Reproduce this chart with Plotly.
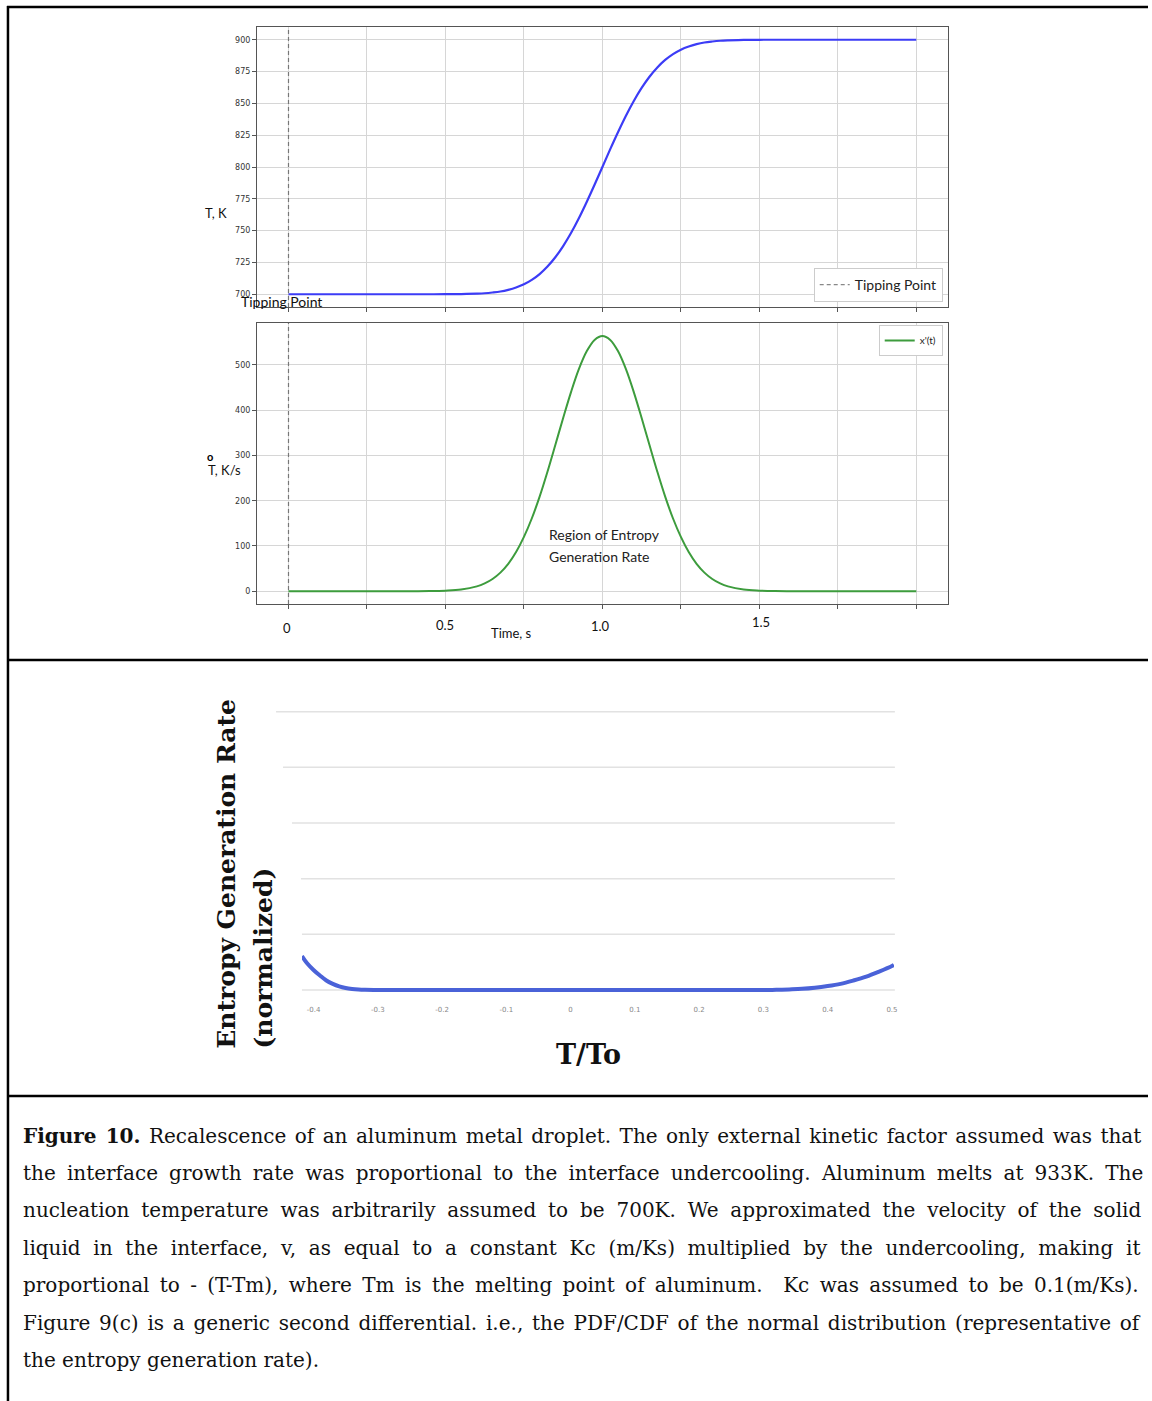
import plotly.graph_objects as go

W, H = 1152, 1401


def px(x):
    return x / W


def py(y):
    return 1 - y / H


# ---------------- data ----------------
time_s = [0.00, 0.05, 0.10, 0.15, 0.20, 0.25, 0.30, 0.35, 0.40, 0.45, 0.50, 0.55,
          0.600, 0.625, 0.650, 0.675, 0.700, 0.725, 0.750, 0.775, 0.800, 0.825, 0.850,
          0.875, 0.900, 0.925, 0.950, 0.975, 1.000, 1.025, 1.050, 1.075, 1.100, 1.125,
          1.150, 1.175, 1.200, 1.225, 1.250, 1.275, 1.300, 1.325, 1.350, 1.375, 1.400,
          1.45, 1.50, 1.55, 1.60, 1.65, 1.70, 1.75, 1.80, 1.85, 1.90, 1.95, 2.00]
temp_K = [700.0, 700.0, 700.0, 700.0, 700.0, 700.0, 700.0, 700.0, 700.0, 700.0, 700.04, 700.15,
          700.5, 700.8, 701.4, 702.2, 703.5, 705.3, 707.8, 711.3, 715.9, 721.8, 729.1,
          737.9, 748.1, 759.7, 772.5, 786.0, 800.0, 814.0, 827.5, 840.3, 851.9, 862.1,
          870.9, 878.2, 884.1, 888.7, 892.2, 894.7, 896.5, 897.8, 898.6, 899.2, 899.5,
          899.85, 899.96, 900.0, 900.0, 900.0, 900.0, 900.0, 900.0, 900.0, 900.0, 900.0, 900.0]
rate_Ks = [0, 0, 0, 0, 0, 0, 0, 0, 0.1, 0.3, 1.2, 3.7,
           10.7, 17.3, 27, 41.1, 60.5, 86.5, 120, 160.7, 209, 264, 323,
           382.8, 440, 490.6, 530, 555.3, 564, 555.3, 530, 490.6, 440, 382.8,
           323, 264, 209, 160.7, 120, 86.5, 60.5, 41.1, 27, 17.3, 10.7,
           3.7, 1.2, 0.3, 0.1, 0, 0, 0, 0, 0, 0, 0, 0]
tipping_time = 0.0

t_over_to = [-0.418, -0.41, -0.40, -0.39, -0.38, -0.37, -0.36, -0.35, -0.34, -0.33,
             -0.32, -0.30, -0.25, -0.20, -0.10, 0.00, 0.10, 0.20, 0.26, 0.30, 0.32, 0.34,
             0.36, 0.38, 0.40, 0.42, 0.44, 0.46, 0.48, 0.50, 0.503]
entropy_rate = [0.61, 0.48, 0.36, 0.26, 0.17, 0.11, 0.065, 0.035, 0.018, 0.008,
                0.003, 0.0, 0.0, 0.0, 0.0, 0.0, 0.0, 0.0, 0.0, 0.0, 0.003, 0.01,
                0.02, 0.04, 0.07, 0.11, 0.17, 0.24, 0.33, 0.43, 0.45]
t_ticks = [-0.4, -0.3, -0.2, -0.1, 0, 0.1, 0.2, 0.3, 0.4, 0.5]
t_tick_text = ["-0.4", "-0.3", "-0.2", "-0.1", "0", "0.1", "0.2", "0.3", "0.4", "0.5"]

caption_lines = [
    "<b>Figure 10.</b> Recalescence of an aluminum metal droplet. The only external kinetic factor assumed was that",
    "the interface growth rate was proportional to the interface undercooling. Aluminum melts at 933K. The",
    "nucleation temperature was arbitrarily assumed to be 700K. We approximated the velocity of the solid",
    "liquid in the interface, v, as equal to a constant Kc (m/Ks) multiplied by the undercooling, making it",
    "proportional to - (T-Tm), where Tm is the melting point of aluminum.  Kc was assumed to be 0.1(m/Ks).",
    "Figure 9(c) is a generic second differential. i.e., the PDF/CDF of the normal distribution (representative of",
    "the entropy generation rate).",
]

# ---------------- approximate font metrics for justification ----------------
SERIF_W = {' ': 0.318, 'a': 0.596, 'b': 0.640, 'c': 0.560, 'd': 0.640, 'e': 0.592, 'f': 0.371,
           'g': 0.640, 'h': 0.644, 'i': 0.320, 'j': 0.310, 'k': 0.608, 'l': 0.320, 'm': 0.962,
           'n': 0.644, 'o': 0.602, 'p': 0.640, 'q': 0.640, 'r': 0.478, 's': 0.513, 't': 0.402,
           'u': 0.644, 'v': 0.565, 'w': 0.843, 'x': 0.564, 'y': 0.565, 'z': 0.526,
           'A': 0.722, 'C': 0.730, 'D': 0.771, 'F': 0.644, 'K': 0.755, 'P': 0.608, 'R': 0.724,
           'T': 0.673, 'W': 1.047, '.': 0.318, ',': 0.318, '(': 0.390, ')': 0.390, '/': 0.337,
           '-': 0.338}
for d in "0123456789":
    SERIF_W[d] = 0.636
CAP_SIZE = 20.0
LINE_W = 1121
WIDTH_FIX = [0, 0, 0, 0, 0, 10, 0]


def natural_width(s):
    w = 0.0
    if s.startswith("<b>"):
        w += 5.877
        s = s.split("</b>", 1)[1]
    for ch in s:
        w += SERIF_W.get(ch, 0.6)
    return w * CAP_SIZE


fig = go.Figure()
fig.add_trace(go.Scatter(x=time_s, y=temp_K, mode="lines", line=dict(color="#3c3cf6", width=2.2, shape="spline"),
                         xaxis="x", yaxis="y", showlegend=False, hoverinfo="skip"))
fig.add_trace(go.Scatter(x=[None], y=[None], mode="lines", name="Tipping Point",
                         line=dict(color="#888888", width=1.3, dash="4px,3px"),
                         xaxis="x", yaxis="y", legend="legend"))
fig.add_trace(go.Scatter(x=time_s, y=rate_Ks, mode="lines", name="x'(t)",
                         line=dict(color="#3d9c3d", width=2, shape="spline"),
                         xaxis="x2", yaxis="y2", legend="legend2"))
fig.add_trace(go.Scatter(x=t_over_to, y=entropy_rate, mode="lines",
                         line=dict(color="#4a62d8", width=4, shape="spline"),
                         xaxis="x3", yaxis="y3", showlegend=False))

ax_common = dict(showline=True, mirror=True, linecolor="#555555", linewidth=1.2,
                 showgrid=True, gridcolor="#d6d6d6", gridwidth=1, zeroline=False,
                 ticks="outside", ticklen=4, tickcolor="#555555")
tickfont = dict(family="DejaVu Sans", size=8, color="#333333")

fig.update_layout(
    width=W, height=H, margin=dict(l=0, r=0, t=0, b=0),
    paper_bgcolor="white", plot_bgcolor="white",
    xaxis=dict(domain=[px(258), px(951)], range=[-0.1, 2.1], tick0=0, dtick=0.25,
               showticklabels=False, anchor="y", **ax_common),
    yaxis=dict(domain=[py(307), py(27)], range=[690, 910], tick0=700, dtick=25,
               tickfont=tickfont, anchor="x", **ax_common),
    xaxis2=dict(domain=[px(258), px(951)], range=[-0.1, 2.1], tick0=0, dtick=0.25,
                showticklabels=False, anchor="y2", **ax_common),
    yaxis2=dict(domain=[py(604), py(323)], range=[-28.2, 592.6], tick0=0, dtick=100,
                tickfont=tickfont, anchor="x2", **ax_common),
    xaxis3=dict(domain=[px(303), px(897)], range=[-0.418, 0.503], anchor="y3",
                showgrid=False, showline=False, zeroline=False, ticks="",
                tickvals=t_ticks, ticktext=t_tick_text, ticklabelstandoff=4,
                tickfont=dict(family="DejaVu Sans", size=7, color="#888888")),
    yaxis3=dict(domain=[py(1000), py(700)], range=[-0.18, 5.21], anchor="x3",
                showgrid=False, showline=False, zeroline=False, showticklabels=False),
    legend=dict(x=px(946), y=py(302), xanchor="right", yanchor="bottom",
                bgcolor="white", bordercolor="#cccccc", borderwidth=1,
                font=dict(family="Lato", size=14, color="#222222"), itemwidth=30),
    legend2=dict(x=px(946), y=py(325), xanchor="right", yanchor="top",
                 bgcolor="white", bordercolor="#cccccc", borderwidth=1,
                 font=dict(family="Lato", size=10, color="#222222"), itemwidth=30),
)

shapes = []
# tipping point vertical dashed lines
for xr, yr in (("x", "y domain"), ("x2", "y2 domain")):
    shapes.append(dict(type="line", xref=xr, yref=yr, x0=tipping_time, x1=tipping_time, y0=0, y1=1,
                       line=dict(color="#777777", width=1.2, dash="4px,3px"), layer="above"))
# skewed horizontal gridlines of lower chart
grid_left = {0: 303, 1: 303, 2: 302, 3: 293, 4: 284, 5: 277}
for k, left in grid_left.items():
    shapes.append(dict(type="line", xref="paper", yref="y3", x0=px(left), x1=px(898), y0=k, y1=k,
                       line=dict(color="#e2e2e2", width=1.5), layer="below"))
# outer frame lines
frame = dict(color="black", width=2.5)
shapes += [
    dict(type="line", xref="paper", yref="paper", x0=px(7), x1=1, y0=py(7), y1=py(7), line=frame),
    dict(type="line", xref="paper", yref="paper", x0=px(8), x1=px(8), y0=py(6), y1=0, line=frame),
    dict(type="line", xref="paper", yref="paper", x0=px(8), x1=1, y0=py(660), y1=py(660), line=frame),
    dict(type="line", xref="paper", yref="paper", x0=px(8), x1=1, y0=py(1096), y1=py(1096), line=frame),
]
fig.update_layout(shapes=shapes)

ann = []
sans = "Lato"


def note(text, x, y, size=13, xanchor="center", yanchor="middle", family=sans, color="#111111", angle=0):
    ann.append(dict(text=text, x=px(x), y=py(y), xref="paper", yref="paper", showarrow=False,
                    xanchor=xanchor, yanchor=yanchor, textangle=angle,
                    font=dict(family=family, size=size, color=color)))


note("Tipping Point", 240, 301, size=14, xanchor="left", color="#111111")
note("T, K", 217, 213, size=13)
note("<b>o</b>", 211, 457, size=11, color="#000000")
note("T, K/s", 225, 470, size=13)
note("Region of Entropy", 549, 535, size=14, xanchor="left", color="#222222")
note("Generation Rate", 549, 556, size=14, xanchor="left", color="#222222")
note("0", 288, 628, size=13)
note("0.5", 447, 625, size=13)
note("1.0", 603, 626, size=13)
note("1.5", 764, 622, size=13)
note("Time, s", 513, 633, size=13)

note("<b>Entropy Generation Rate</b>", 227, 873.5, size=25, family="DejaVu Serif", angle=-90, color="#111111")
note("<b>(normalized)</b>", 264, 958.5, size=25, family="DejaVu Serif", angle=-90, color="#111111")
note("<b>T/To</b>", 591, 1054, size=27, family="DejaVu Serif", color="#111111")

cap_y = [1136, 1173, 1210, 1248, 1285, 1323, 1360]
for i, (line, yy) in enumerate(zip(caption_lines, cap_y)):
    if i < len(caption_lines) - 1:
        n_sp = line.replace("<b>", "").replace("</b>", "").count(" ")
        ws = (LINE_W - natural_width(line) - WIDTH_FIX[i]) / max(n_sp, 1)
        text = '<span style="word-spacing:%.2fpx">%s</span>' % (ws, line)
    else:
        text = line
    note(text, 21, yy, size=CAP_SIZE, xanchor="left", family="DejaVu Serif", color="#111111")

fig.update_layout(annotations=ann)
fig.write_html("out.html")
